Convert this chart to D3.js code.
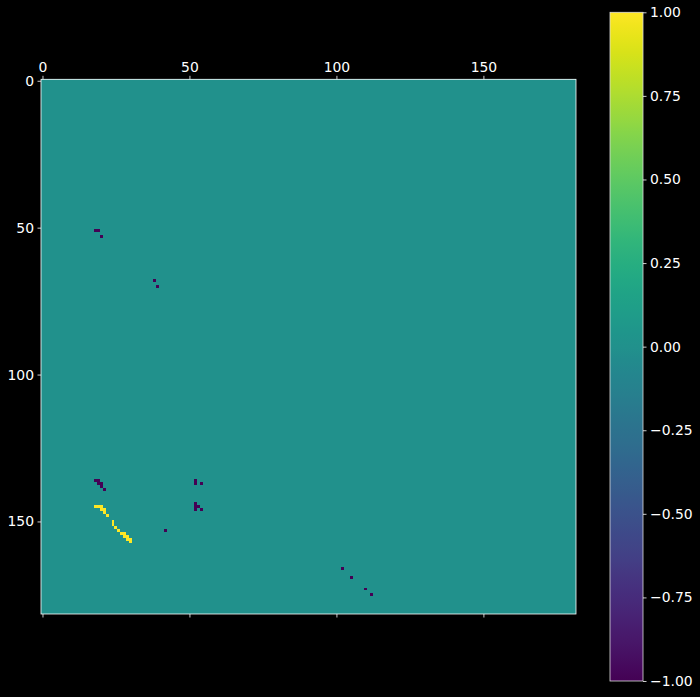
<!DOCTYPE html>
<html>
<head>
<meta charset="utf-8">
<script src="https://cdn.jsdelivr.net/npm/d3@7"></script>
<style>
  html, body { margin: 0; padding: 0; background: #000; }
  text { font-family: "DejaVu Sans", sans-serif; fill: #fff; }
</style>
</head>
<body>
<svg id="chart" width="700" height="697"></svg>
<script>
// matrix size and non-zero entries [row, col]
const nRows = 182;
const nCols = 182;
const negCells = [
  [51, 18], [51, 19], [53, 20],
  [68, 38], [70, 39],
  [136, 18], [136, 19], [137, 19], [137, 20], [138, 20], [139, 21],
  [136, 52], [137, 52], [137, 54],
  [144, 52], [145, 52], [146, 52], [145, 53], [146, 54],
  [153, 42],
  [166, 102], [169, 105], [173, 110], [175, 112]
];
const posCells = [
  [145, 18], [145, 19], [145, 20], [146, 20], [146, 21], [147, 21], [148, 22],
  [150, 24], [151, 24], [152, 25], [153, 26], [154, 27], [154, 28],
  [155, 28], [155, 29], [156, 29], [156, 30], [157, 30]
];
const axisTicks = [0, 50, 100, 150];
const cbarTicks = [1, 0.75, 0.5, 0.25, 0, -0.25, -0.5, -0.75, -1];

const svg = d3.select('#chart');
const plot = { left: 41, top: 79.3, right: 576, bottom: 614 };
const cbar = { left: 610, right: 643, top: 12.3, bottom: 681 };

const xScale = d3.scaleLinear().domain([-0.5, nCols - 0.5]).range([plot.left, plot.right]);
const yScale = d3.scaleLinear().domain([-0.5, nRows - 0.5]).range([plot.top, plot.bottom]);
const color = d3.scaleSequential(d3.interpolateViridis).domain([-1, 1]);

// build the full matrix
const values = new Map();
negCells.forEach(([r, c]) => values.set(r * nCols + c, -1));
posCells.forEach(([r, c]) => values.set(r * nCols + c, 1));
const cells = [];
for (let r = 0; r < nRows; r++) {
  for (let c = 0; c < nCols; c++) {
    cells.push({ r, c, v: values.get(r * nCols + c) || 0 });
  }
}

const cw = xScale(1) - xScale(0);
const ch = yScale(1) - yScale(0);

svg.append('g')
  .attr('shape-rendering', 'crispEdges')
  .selectAll('rect')
  .data(cells)
  .join('rect')
    .attr('x', d => xScale(d.c - 0.5))
    .attr('y', d => yScale(d.r - 0.5))
    .attr('width', cw + 0.05)
    .attr('height', ch + 0.05)
    .attr('fill', d => color(d.v));

// frame
svg.append('rect')
  .attr('x', plot.left).attr('y', plot.top)
  .attr('width', plot.right - plot.left).attr('height', plot.bottom - plot.top)
  .attr('fill', 'none').attr('stroke', '#fff').attr('stroke-width', 0.8);

const fontSize = '13.9px';

function styleAxis(g) {
  g.select('.domain').remove();
  g.selectAll('.tick line').attr('stroke', '#fff').attr('stroke-width', 0.8);
  g.selectAll('.tick text').attr('fill', '#fff').style('font-size', fontSize)
    .style('font-family', '"DejaVu Sans", sans-serif');
}

svg.append('g')
  .attr('transform', `translate(0,${plot.top})`)
  .call(d3.axisTop(xScale).tickValues(axisTicks).tickSize(3.5).tickPadding(3.5).tickFormat(d3.format('d')))
  .call(styleAxis);

svg.append('g')
  .attr('transform', `translate(0,${plot.bottom})`)
  .call(d3.axisBottom(xScale).tickValues(axisTicks).tickSize(3.5).tickFormat(''))
  .call(styleAxis);

svg.append('g')
  .attr('transform', `translate(${plot.left},0)`)
  .call(d3.axisLeft(yScale).tickValues(axisTicks).tickSize(3.5).tickPadding(3.5).tickFormat(d3.format('d')))
  .call(styleAxis);

// colorbar
const cScale = d3.scaleLinear().domain([-1, 1]).range([cbar.bottom, cbar.top]);
const grad = svg.append('defs').append('linearGradient')
  .attr('id', 'cbgrad').attr('x1', 0).attr('y1', 1).attr('x2', 0).attr('y2', 0);
d3.range(0, 1.0001, 0.02).forEach(t => {
  grad.append('stop').attr('offset', t).attr('stop-color', color(-1 + 2 * t));
});
svg.append('rect')
  .attr('x', cbar.left).attr('y', cbar.top)
  .attr('width', cbar.right - cbar.left).attr('height', cbar.bottom - cbar.top)
  .attr('fill', 'url(#cbgrad)')
  .attr('stroke', '#ddd').attr('stroke-width', 0.8);

svg.append('g')
  .attr('transform', `translate(${cbar.right},0)`)
  .call(d3.axisRight(cScale).tickValues(cbarTicks).tickSize(3.5).tickPadding(3.5)
    .tickFormat(d => d3.format('.2f')(d).replace('-', '\u2212')))
  .call(styleAxis);
</script>
</body>
</html>
